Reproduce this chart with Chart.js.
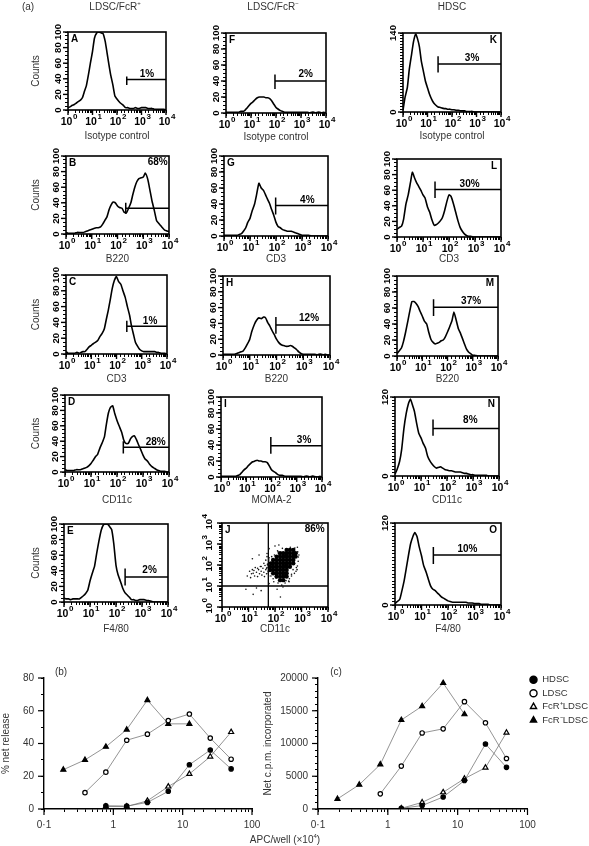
<!DOCTYPE html>
<html>
<head>
<meta charset="utf-8">
<script src="https://cdn.jsdelivr.net/npm/chart.js@4"></script>
<style>
  html, body { margin: 0; padding: 0; background: #fff; }
  #page { position: relative; width: 589px; height: 846px; overflow: hidden; filter: blur(0.3px); font: 10px "Liberation Sans", sans-serif; color: #333; }
  #page canvas { position: absolute; }
  .note { position: absolute; white-space: nowrap; transform: translate(-50%, -50%); }
  .note sup { font-size: 6px; line-height: 0; }
</style>
</head>
<body>
<div id="page">
  <div class="note" style="left:28px;top:6px">(a)</div>
  <div class="note" style="left:115px;top:6px">LDSC/FcR<sup>+</sup></div>
  <div class="note" style="left:273px;top:6px">LDSC/FcR<sup>−</sup></div>
  <div class="note" style="left:452px;top:6px">HDSC</div>
  <div class="note" style="left:61px;top:671px">(b)</div>
  <div class="note" style="left:336px;top:671px">(c)</div>
  <div class="note" style="left:285px;top:839px">APC/well (×10<sup>4</sup>)</div>
</div>
<script>
const channels = [1,1.2,1.5,1.8,2.2,2.7,3.3,3.9,4.7,5.6,6.8,8.2,
  10,12,15,18,22,27,33,39,47,56,68,82,
  100,120,150,180,220,270,330,390,470,560,680,820,
  1000,1200,1500,1800,2200,2700,3300,3900,4700,5600,6800,8200,10000];

const countsA = [3,4,6,7,9,11,13,16,24,31,45,60, 75,92,99,100,99,98,88,74,58,44,32,18, 14,11,8,6,3,3,2,2,2,3,2,2, 3,3,3,2,2,2,1,1,1,1,1,1,0];
const countsB = [2,1,1,1,1,2,2,2,2,3,4,5, 6,7,8,8,9,13,18,22,31,37,41,40, 36,34,33,28,27,33,40,50,60,67,71,72, 73,78,70,57,42,30,17,14,11,8,5,4,3];
const countsC = [3,1,1,1,1,2,1,2,3,3,6,9, 11,13,15,17,22,26,32,43,55,68,83,93, 98,92,88,80,72,60,49,36,25,15,10,6, 4,3,3,3,3,3,3,2,2,1,1,1,0];
const countsD = [3,2,2,2,2,3,3,3,4,5,6,8, 11,15,20,23,31,38,46,62,77,84,86,76, 67,60,52,42,37,37,43,46,47,42,35,29, 22,17,14,10,7,5,3,2,1,1,1,0,0];
const countsE = [5,4,4,3,4,4,4,4,6,8,11,15, 27,36,46,62,78,92,99,100,100,97,93,75, 47,35,26,18,12,9,6,3,3,2,2,3, 3,3,2,2,1,0,0,0,0,0,0,0,0];
const countsF = [1,1,1,1,1,1,1,2,2,3,6,9, 12,14,17,19,20,20,20,19,19,18,15,11, 7,5,3,2,1,1,1,1,1,1,1,1, 1,1,1,1,0,1,1,0,1,1,0,1,0];
const countsG = [1,1,1,1,1,1,1,2,3,6,10,17, 22,31,40,52,66,60,57,52,46,41,33,26, 17,12,10,8,7,6,6,6,5,4,3,2, 1,1,1,1,0,0,0,0,0,0,0,0,0];
const countsH = [1,1,1,1,1,1,2,3,4,5,9,14, 20,30,39,44,47,46,48,47,41,37,31,26, 20,16,13,12,11,11,12,11,9,7,4,2, 1,1,1,1,1,1,0,1,1,0,1,0,0];
const countsI = [1,1,1,1,1,1,1,1,2,3,6,9, 11,14,17,19,20,21,20,20,19,19,18,14, 9,7,5,3,2,2,1,1,1,1,1,1, 1,1,1,0,1,1,0,1,1,0,0,1,0];
const countsK = [3,25,43,75,100,125,138,130,115,90,72,55, 43,32,22,16,12,9,8,7,6,6,5,5, 4,4,3,3,2,2,2,1,1,1,1,0, 0,0,0,0,0,0,0,0,0,0,0,0,0];
const countsL = [10,12,14,23,42,54,70,83,76,70,65,60, 54,50,38,32,22,15,16,18,21,25,34,45, 54,52,42,32,21,12,7,4,2,1,1,0, 0,0,0,0,0,0,0,0,0,0,0,0,0];
const countsM = [3,6,10,18,30,44,58,68,68,66,62,56, 50,44,40,30,21,17,15,16,17,19,20,24, 30,36,44,55,45,34,28,22,15,9,5,3, 1,1,0,0,0,0,0,0,0,0,0,0,0];
const countsN = [3,10,22,40,72,95,110,117,108,98,80,65, 58,50,42,30,23,18,14,12,13,14,12,10, 9,8,8,7,6,6,6,5,4,4,3,2, 2,1,1,1,1,1,1,0,0,0,0,0,0];
const countsO = [2,5,8,20,35,55,75,90,100,106,100,85, 72,58,48,38,28,23,21,18,15,12,10,8, 6,5,4,4,4,4,4,4,4,3,3,3, 2,2,2,1,1,1,1,0,0,0,0,0,0];

const panelLetters = ["A","B","C","D","E","F","G","H","I","K","L","M","N","O"];
const panelCounts = [countsA,countsB,countsC,countsD,countsE,countsF,countsG,countsH,countsI,countsK,countsL,countsM,countsN,countsO];
const panelTitles = ["Isotype control","B220","CD3","CD11c","F4/80","Isotype control","CD3","B220","MOMA-2","Isotype control","CD3","B220","CD11c","F4/80"];
const panelYMax = [100,100,100,100,100,100,100,100,100,140,100,100,120,120];

// marker gates: where the bar starts, its height and the tall end stroke
const gateStart = [250,209,256,175,224,91,97,95,94,27,29,28,29,28];
const gateLevel = [39,33,35,32,32,40,38,38,39,85,61,61,72,73];
const gateLow   = [32,26,28,24,21,30,27,27,29,70,50,50,61,60];
const gateHigh  = [43,40,42,40,43,48,48,48,50,99,71,71,86,85];
const gateText  = ["1%","68%","1%","28%","2%","2%","4%","12%","3%","3%","30%","37%","8%","10%"];
const gateTextX = [1660,3650,2130,3090,1950,1550,1600,1650,1950,660,620,860,790,540];
const gateTextY = [46,92,42,38,41,49,45,47,46,95,68,68,84,82];

// panel J dot plot
const denseY = [525,363,251,174,120,83,58,40,28,19];
const denseX = [
  [275,365,490],
  [155,205,275,365,490,600],
  [115,155,205,275,365,490,600],
  [85,115,155,205,275,365,490],
  [70,85,115,155,205,275,365,490],
  [65,85,115,155,205,275,365],
  [65,85,115,155,205,275],
  [85,115,155,205,275],
  [115,155,205,275],
  [155,205]
];
const sparseX = [9,11,12,14,15,17,18,20,22,24,26,28,30,32,35,38,40,42,45,48,50,52,55,58,60,38,30,22,16,13,60,50,100,140,700,800,750,60,58,45,50,700,620,480,420,350,240,130,90,180,60,8,15,20,30,120,160,200,14,25,
  130,190,380,560,720,760,680,640,540,420,330,62,58,52,48,56,70,95,125,340,110,260,85,75];
const sparseY = [30,50,25,60,40,30,75,45,28,60,38,85,50,33,70,45,28,95,60,38,75,110,50,30,90,120,85,70,55,38,600,350,800,900,700,300,150,220,160,170,250,90,50,60,30,22,14,14,16,11,13,7,4,8,6,7,3,9,200,300,
  420,620,700,640,420,240,60,75,40,36,17,130,190,100,70,40,30,300,480,16,24,18,22,250];
const quadX = 56;
const quadY = 10;

// (b) and (c) titration curves
const apcDoses = [0.19,0.39,0.78,1.56,3.1,6.2,12.5,25,50];
const seriesNames = ["HDSC","LDSC","FcR⁺LDSC","FcR⁻LDSC"];
const releaseHDSC = [null,null,2,1.8,4,10.8,27,36,24.5];
const releaseLDSC = [null,10,22.5,42,45.7,54,58,43.3,30.4];
const releaseFcRplus = [null,null,1.5,1.5,5,13.7,21.4,32,47];
const releaseFcRminus = [24,30,38,48.5,66.5,52,52,null,null];
const uptakeHDSC = [null,null,null,100,530,1830,4340,9930,6360];
const uptakeLDSC = [null,null,2310,6550,11610,12240,16390,13160,7710];
const uptakeFcRplus = [null,null,null,100,1010,2550,4630,6310,11660];
const uptakeFcRminus = [1540,3710,6800,13590,15700,19230,14460,null,null];

// plot boxes in page pixels, same order as panelLetters; tx = y of the axis title centre
const boxes = [
  {l:68,t:32,r:166,b:110,tx:136},{l:66,t:156,r:169,b:234,tx:259},{l:66,t:275,r:167,b:354,tx:379},
  {l:65,t:395,r:169,b:472,tx:500},{l:64,t:524,r:168,b:602,tx:629},
  {l:226,t:33,r:326,b:113,tx:137},{l:224,t:156,r:328,b:236,tx:259},{l:223,t:276,r:330,b:355,tx:379},
  {l:221,t:397,r:322,b:477,tx:500},
  {l:403,t:33,r:501,b:112,tx:136},{l:397,t:159,r:501,b:237,tx:259},{l:397,t:276,r:498,b:356,tx:379},
  {l:395,t:397,r:499,b:476,tx:500},{l:395,t:523,r:501,b:605,tx:629}
];
const boxJ = {l:222,t:523,r:328,b:607,tx:629};

const sansFont = "'Liberation Sans', sans-serif";
const topRoom = 14;
const page = document.getElementById("page");

function addCanvas(left, top, width, height) {
  let c = document.createElement("canvas");
  c.width = width;
  c.height = height;
  c.style.left = left + "px";
  c.style.top = top + "px";
  c.style.width = width + "px";
  c.style.height = height + "px";
  page.appendChild(c);
  return c.getContext("2d");
}

// the trailing space leaves room for the exponent, which longTicks writes raised
function decadeLabel(v) {
  let e = Math.log10(v);
  if (Math.abs(e - Math.round(e)) < 1e-6) return "10 ";
  return "";
}

// black frame round the plot, letter and percentage on top of it
const frameAndText = {
  id: "frameAndText",
  afterDatasetsDraw(chart, args, opts) {
    let a = chart.chartArea;
    let ctx = chart.ctx;
    ctx.save();
    ctx.strokeStyle = "#000";
    ctx.lineWidth = 1.6;
    ctx.strokeRect(a.left, a.top, a.right - a.left, a.bottom - a.top);
    ctx.fillStyle = "#000";
    ctx.font = "bold 10px " + sansFont;
    ctx.textBaseline = "middle";
    ctx.textAlign = opts.letterRight ? "right" : "left";
    ctx.fillText(opts.letter, opts.letterRight ? a.right - 4 : a.left + 3, a.top + 7);
    ctx.textAlign = "center";
    ctx.fillText(opts.text, chart.scales.x.getPixelForValue(opts.textX), chart.scales.y.getPixelForValue(opts.textY));
    ctx.restore();
  },
};

// decade / labelled ticks stick out further than the minor ones
const longTicks = {
  id: "longTicks",
  afterDraw(chart, args, opts) {
    let ctx = chart.ctx;
    ctx.save();
    ctx.strokeStyle = "#000";
    ctx.fillStyle = "#000";
    ctx.lineWidth = opts.width || 1.4;
    ctx.textBaseline = "middle";
    ctx.textAlign = "left";
    let len = opts.length || 5;
    let sx = chart.scales.x;
    sx.ticks.forEach((t, i) => {
      if (!t.label) return;
      let p = sx.getPixelForTick(i);
      ctx.beginPath();
      ctx.moveTo(p, sx.top);
      ctx.lineTo(p, sx.top + len);
      ctx.stroke();
      if (opts.exponents) {
        ctx.font = "bold 10.5px " + sansFont;
        let whole = ctx.measureText("10 ").width;
        let ten = ctx.measureText("10").width;
        ctx.font = "bold 8px " + sansFont;
        ctx.fillText(String(Math.round(Math.log10(t.value))), p - whole / 2 + ten + 0.5, sx.top + 7);
      }
    });
    let sy = chart.scales.y;
    sy.ticks.forEach((t, i) => {
      if (!t.label) return;
      let p = sy.getPixelForTick(i);
      ctx.beginPath();
      ctx.moveTo(sy.right, p);
      ctx.lineTo(sy.right - len, p);
      ctx.stroke();
      if (opts.exponents && sy.type === "logarithmic") {
        ctx.save();
        ctx.font = "bold 9.5px " + sansFont;
        let whole = ctx.measureText("10 ").width;
        let ten = ctx.measureText("10").width;
        ctx.translate(sy.right - 17, p + whole / 2 - ten - 0.5);
        ctx.rotate(-Math.PI / 2);
        ctx.font = "bold 8px " + sansFont;
        ctx.fillText(String(Math.round(Math.log10(t.value))), 0, 0);
        ctx.restore();
      }
    });
    ctx.restore();
  },
};

function facsOptions(w, h, title, yOpts, pluginOpts) {
  return {
    responsive: false,
    animation: false,
    layout: { autoPadding: false, padding: { top: topRoom, right: 16, left: 0, bottom: 0 } },
    plugins: { legend: { display: false }, tooltip: { enabled: false }, frameAndText: pluginOpts, longTicks: { exponents: true } },
    scales: {
      x: {
        type: "logarithmic",
        min: 1,
        max: 10000,
        afterFit: (s) => { s.height = h; },
        grid: { drawOnChartArea: false, tickLength: 3, tickColor: "#000", tickWidth: 1 },
        border: { display: false },
        ticks: { autoSkip: false, maxRotation: 0, padding: 3, color: "#000", font: { family: sansFont, weight: "bold", size: 10.5 }, callback: decadeLabel },
        title: { display: true, text: title, color: "#333", padding: 0, font: { family: sansFont, size: 10 } },
      },
      y: Object.assign({
        afterFit: (s) => { s.width = w; },
        grid: { drawOnChartArea: false, tickLength: 3, tickColor: "#000", tickWidth: 1 },
        border: { display: false },
      }, yOpts),
    },
  };
}

function yTicks(callback, pad) {
  return { autoSkip: false, minRotation: 90, maxRotation: 90, crossAlign: "center", padding: pad, color: "#000", font: { family: sansFont, weight: "bold", size: 9.5 }, callback: callback };
}

function histogram(i) {
  let box = boxes[i];
  let w = i < 5 ? box.l - 30 : 22;
  let h = box.tx - box.b + 6;
  let ctx = addCanvas(box.l - w, box.t - topRoom, box.r - box.l + w + 16, box.b - box.t + h + topRoom);
  let yMax = panelYMax[i];
  let yOpts = {
    min: 0,
    max: yMax,
    ticks: Object.assign(yTicks((v) => {
      if (yMax === 100) return v % 20 === 0 ? String(v) : "";
      return v === 0 || v === yMax ? String(v) : "";
    }, -1), { stepSize: 5 }),
    title: { display: i < 5, text: "Counts", color: "#333", padding: 0, font: { family: sansFont, size: 10 } },
  };
  new Chart(ctx, {
    type: "scatter",
    data: {
      datasets: [
        {
          data: channels.map((c, k) => ({ x: c, y: panelCounts[i][k] })),
          showLine: true, borderColor: "#000", borderWidth: 1.6, pointRadius: 0, tension: 0.15,
        },
        {
          data: [
            { x: gateStart[i], y: gateLow[i] }, { x: gateStart[i], y: gateHigh[i] },
            { x: null, y: null },
            { x: gateStart[i], y: gateLevel[i] }, { x: 10000, y: gateLevel[i] },
          ],
          showLine: true, spanGaps: false, borderColor: "#000", borderWidth: 1.5, pointRadius: 0,
        },
      ],
    },
    options: facsOptions(w, h, panelTitles[i], yOpts, {
      letter: panelLetters[i], letterRight: i >= 9, text: gateText[i], textX: gateTextX[i], textY: gateTextY[i],
    }),
    plugins: [frameAndText, longTicks],
  });
}

function dotPlot() {
  let box = boxJ;
  let w = 24;
  let h = box.tx - box.b + 6;
  let ctx = addCanvas(box.l - w, box.t - topRoom, box.r - box.l + w + 16, box.b - box.t + h + topRoom);
  let dense = [];
  denseY.forEach((y, k) => denseX[k].forEach((x) => dense.push({ x: x, y: y })));
  let yOpts = {
    type: "logarithmic",
    min: 1,
    max: 10000,
    ticks: yTicks(decadeLabel, 3),
  };
  new Chart(ctx, {
    type: "scatter",
    data: {
      datasets: [
        { data: dense, pointRadius: 2.2, pointBackgroundColor: "#000", pointBorderWidth: 0 },
        { data: sparseX.map((x, k) => ({ x: x, y: sparseY[k] })), pointRadius: 0.8, pointBackgroundColor: "#111", pointBorderWidth: 0 },
        {
          data: [{ x: quadX, y: 1 }, { x: quadX, y: 10000 }, { x: null, y: null }, { x: 1, y: quadY }, { x: 10000, y: quadY }],
          showLine: true, spanGaps: false, borderColor: "#000", borderWidth: 1.3, pointRadius: 0,
        },
      ],
    },
    options: facsOptions(w, h, "CD11c", yOpts, {
      letter: "J", letterRight: false, text: "86%", textX: 3160, textY: 4780,
    }),
    plugins: [frameAndText, longTicks],
  });
}

function doseDataset(name, values, filled, triangle) {
  return {
    label: name,
    data: apcDoses.map((d, k) => ({ x: d, y: values[k] })),
    showLine: true,
    borderColor: "#666",
    borderWidth: 0.7,
    backgroundColor: filled ? "#000" : "#fff",
    pointStyle: triangle ? "triangle" : "circle",
    pointBackgroundColor: filled ? "#000" : "#fff",
    pointBorderColor: "#000",
    pointBorderWidth: 1.2,
    pointRadius: triangle ? 2.9 : 2.2,
    spanGaps: false,
  };
}

// moves the legend a little towards the plot
const legendNudge = {
  id: "legendNudge",
  afterLayout(chart) {
    if (chart.legend && chart.options.plugins.legend.display) chart.legend.left -= 2;
  },
};

function doseChart(left, plotLeft, plotRight, canvasRight, yMax, yStep, yMajor, yTitle, series, withLegend) {
  let w = plotLeft - left;
  let top = 665;
  let bottom = 809;
  let h = 30;
  let ctx = addCanvas(left, top, canvasRight - left, bottom - top + h);
  let datasets = seriesNames.map((n, k) => doseDataset(n, series[k], k === 0 || k === 3, k >= 2));
  new Chart(ctx, {
    type: "scatter",
    data: { datasets: datasets },
    options: {
      responsive: false,
      animation: false,
      layout: { autoPadding: false, padding: { top: 6, right: withLegend ? 0 : canvasRight - plotRight, left: 0, bottom: 0 } },
      plugins: {
        tooltip: { enabled: false },
        longTicks: { length: 6, width: 1.2 },
        legend: {
          display: withLegend,
          position: "right",
          align: "start",
          labels: {
            usePointStyle: true,
            boxWidth: 8,
            boxHeight: 5,
            padding: 4,
            color: "#333",
            font: { family: sansFont, size: 9.5 },
            generateLabels: (chart) => Chart.defaults.plugins.legend.labels.generateLabels(chart).map((l) => {
              l.strokeStyle = "#000";
              l.lineWidth = 1.4;
              return l;
            }),
          },
        },
      },
      scales: {
        x: {
          type: "logarithmic",
          min: 0.1,
          max: 100,
          afterFit: (s) => { s.height = h; },
          grid: { drawOnChartArea: false, tickLength: 3, tickColor: "#000", tickWidth: 1 },
          border: { color: "#000", width: 1.4 },
          ticks: {
            autoSkip: false, maxRotation: 0, padding: 7, color: "#333",
            font: { family: sansFont, size: 10 },
            callback: (v) => ({ 0.1: "0·1", 1: "1", 10: "10", 100: "100" }[v] || ""),
          },
        },
        y: {
          min: 0,
          max: yMax,
          afterFit: (s) => { s.width = w; },
          grid: { drawOnChartArea: false, tickLength: 3, tickColor: "#000", tickWidth: 1 },
          border: { color: "#000", width: 1.4 },
          ticks: {
            autoSkip: false, stepSize: yStep, padding: 7, color: "#333",
            font: { family: sansFont, size: 10 },
            callback: (v) => (v % yMajor === 0 ? String(v) : ""),
          },
          title: { display: true, text: yTitle, color: "#333", padding: 0, font: { family: sansFont, size: 10 } },
        },
      },
    },
    plugins: [longTicks, legendNudge],
  });
}

for (let i = 0; i < panelLetters.length; i++) histogram(i);
dotPlot();
doseChart(0, 44, 252, 268, 80, 10, 20, "% net release", [releaseHDSC, releaseLDSC, releaseFcRplus, releaseFcRminus], false);
doseChart(262, 318, 527, 600, 20000, 1000, 5000, "Net c.p.m. incorporated", [uptakeHDSC, uptakeLDSC, uptakeFcRplus, uptakeFcRminus], true);
</script>
</body>
</html>
